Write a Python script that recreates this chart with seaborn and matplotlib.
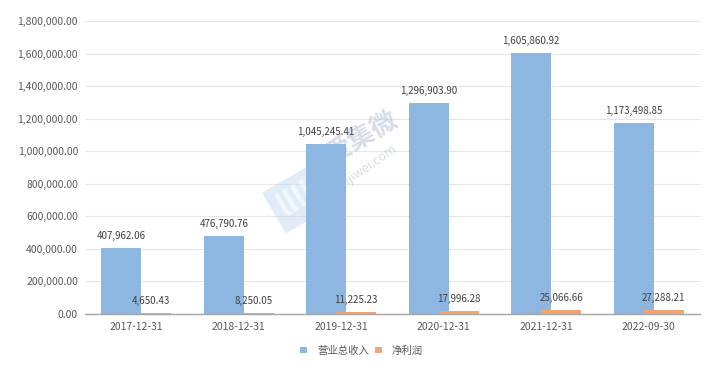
import numpy as np
import pandas as pd
import matplotlib
matplotlib.use("Agg")
import matplotlib.pyplot as plt
import seaborn as sns

DATES   = ["2017-12-31", "2018-12-31", "2019-12-31", "2020-12-31", "2021-12-31", "2022-09-30"]
REVENUE = [407962.06, 476790.76, 1045245.41, 1296903.90, 1605860.92, 1173498.85]
PROFIT  = [4650.43, 8250.05, 11225.23, 17996.28, 25066.66, 27288.21]
SERIES  = ["营业总收入", "净利润"]
COLORS  = ["#8DB6E1", "#F3A470"]
YTICKS  = np.arange(0, 1800001, 200000)

sns.set_theme(style="white")
plt.rcParams["font.family"] = ["Noto Sans CJK SC", "DejaVu Sans"]

df = pd.DataFrame({
    "date": DATES * 2,
    "value": REVENUE + PROFIT,
    "series": [SERIES[0]] * len(DATES) + [SERIES[1]] * len(DATES),
})

fig = plt.figure(figsize=(7.24, 3.73), dpi=100)
ax = fig.add_axes([85 / 724, 59 / 373, 615 / 724, 293 / 373])

# watermark (logo + site name), faint, behind the bars
wm = "#B4C2D6"
ax.text(0.45, 0.60, "爱集微", transform=ax.transAxes, rotation=30, fontsize=19,
        color=wm, alpha=0.55, ha="center", va="center", fontweight="bold", zorder=1)
ax.text(0.465, 0.51, "ijiwei.com", transform=ax.transAxes, rotation=35, fontsize=9,
        color=wm, alpha=0.55, ha="center", va="center", zorder=1)
ax.text(0.345, 0.39, "llll", transform=ax.transAxes, rotation=30, fontsize=22,
        color="#FFFFFF", alpha=0.6, ha="center", va="center", fontweight="bold", zorder=1,
        bbox=dict(boxstyle="square,pad=0.25", fc="#C5DAF3", ec="none", alpha=0.5))

# negative gap -> the two bars of a group overlap a little, like the original
sns.barplot(data=df, x="date", y="value", hue="series", palette=COLORS,
            width=0.585, gap=-0.333, ax=ax, legend=True, saturation=1,
            linewidth=0, edgecolor="none", zorder=2)

ax.set_ylim(0, 1800000)
ax.set_xlim(-0.5, len(DATES) - 0.5)
ax.set_yticks(YTICKS)
ax.set_yticklabels([f"{v:,.2f}" for v in YTICKS], fontsize=7.5, color="#595959")
ax.tick_params(axis="x", labelsize=7.5, labelcolor="#595959", length=0, pad=6)
ax.tick_params(axis="y", length=0, pad=5)
ax.set_xlabel("")
ax.set_ylabel("")
ax.yaxis.grid(True, color="#E6E6E6", linewidth=0.8, zorder=0)
ax.set_axisbelow(True)
for side in ["top", "right", "left"]:
    ax.spines[side].set_visible(False)
ax.spines["bottom"].set_color("#A6A6A6")
ax.spines["bottom"].set_linewidth(1)

# value labels
for container in ax.containers:
    ax.bar_label(container, labels=[f"{b.get_height():,.2f}" for b in container],
                 padding=5, fontsize=7, color="#404040")

leg = ax.legend(loc="center", bbox_to_anchor=(0.45, -0.125), ncol=2, frameon=False,
                fontsize=7.5, handlelength=0.6, handleheight=0.6, columnspacing=0.6,
                handletextpad=1.0)
for t in leg.get_texts():
    t.set_color("#595959")

fig.savefig("out.png", dpi=100)
